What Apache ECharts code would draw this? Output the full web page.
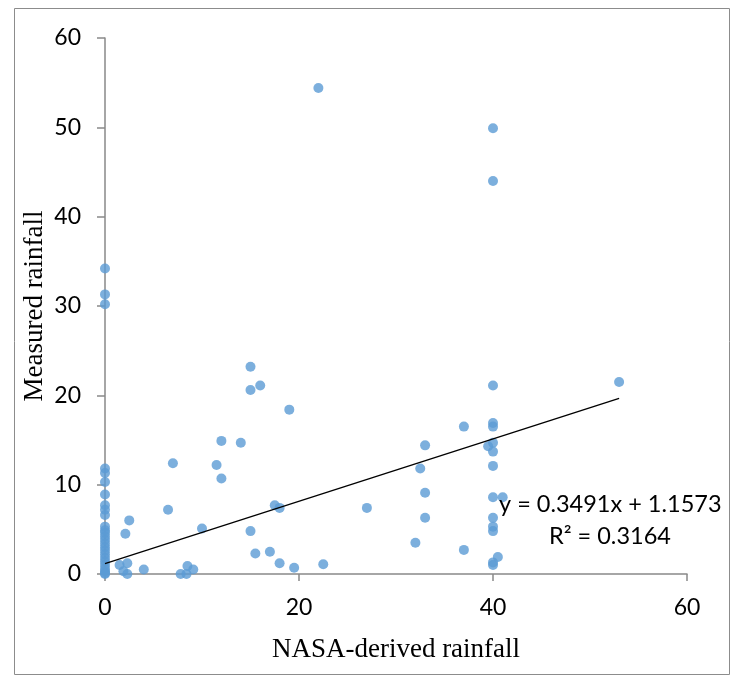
<!DOCTYPE html>
<html>
<head>
<meta charset="utf-8">
<script src="https://cdn.jsdelivr.net/npm/echarts@6/dist/echarts.min.js"></script>
<style>
  html, body { margin: 0; padding: 0; background: #fff; }
  #chart { width: 739px; height: 675px; }
</style>
</head>
<body>
<div id="chart"></div>
<script>
// NASA-derived rainfall (x) vs measured rainfall (y), one entry per station-day
const nasaX = [
  0, 0, 0, 0, 0, 0, 0, 0, 0, 0, 0, 0, 0, 0, 0, 0, 0, 0, 0, 0, 0, 0, 0, 0, 0, 0,
  1.5, 2.3, 1.9, 2.3, 2.1, 2.5, 4.0, 6.5, 7.0, 7.8, 8.4, 8.5, 9.1, 10.0,
  11.5, 12.0, 12.0, 14.0, 15.0, 15.0, 15.0, 15.5, 16.0, 17.0, 17.5, 18.0, 18.0,
  19.0, 19.5, 22.0, 22.5, 27.0, 32.0, 32.5, 33.0, 33.0, 33.0, 37.0, 37.0,
  39.5, 40.0, 40.0, 40.0, 40.0, 40.0, 40.0, 40.0, 40.0, 40.0, 40.0, 40.0, 40.0,
  40.0, 40.0, 40.5, 41.0, 53.0
];
const measuredY = [
  34.2, 31.3, 30.2, 11.8, 11.3, 10.3, 8.9, 7.7, 7.2, 6.6, 5.3, 4.9, 4.6, 4.2,
  3.8, 3.4, 3.0, 2.6, 2.2, 1.8, 1.4, 1.0, 0.6, 0.3, 0.1, 0.0,
  1.0, 1.2, 0.3, 0.0, 4.5, 6.0, 0.5, 7.2, 12.4, 0.0, 0.0, 0.9, 0.5, 5.1,
  12.2, 14.9, 10.7, 14.7, 23.2, 20.6, 4.8, 2.3, 21.1, 2.5, 7.7, 7.4, 1.2,
  18.4, 0.7, 54.4, 1.1, 7.4, 3.5, 11.8, 14.4, 9.1, 6.3, 16.5, 2.7,
  14.3, 49.9, 44.0, 21.1, 16.9, 16.5, 14.7, 13.7, 12.1, 8.6, 6.3, 5.3, 4.8,
  1.3, 1.0, 1.9, 8.6, 21.5
];

// Linear least-squares fit reported for the data
const slope = 0.3491;
const intercept = 1.1573;
const rSquared = 0.3164;

const xTicks = [0, 20, 40, 60];
const yTicks = [0, 10, 20, 30, 40, 50, 60];

const points = nasaX.map((x, i) => [x, measuredY[i]]);
const fitStart = Math.min(...nasaX);
const fitEnd = Math.max(...nasaX);
const fitLine = [fitStart, fitEnd].map(x => [x, slope * x + intercept]);

const chart = echarts.init(document.getElementById('chart'));
const axisGray = '#898989';

chart.setOption({
  animation: false,
  backgroundColor: '#ffffff',
  grid: { left: 105, right: 52, top: 38, bottom: 101 },
  xAxis: {
    type: 'value',
    min: xTicks[0],
    max: xTicks[xTicks.length - 1],
    interval: xTicks[1] - xTicks[0],
    splitLine: { show: false },
    axisLine: { onZero: false, lineStyle: { color: axisGray, width: 1.5 } },
    axisTick: { show: true, length: 7, lineStyle: { color: axisGray, width: 1.5 } },
    axisLabel: { color: '#000', fontFamily: 'Lato', fontSize: 23, margin: 22 },
    name: 'NASA-derived rainfall',
    nameLocation: 'middle',
    nameGap: 62,
    nameTextStyle: { color: '#000', fontFamily: 'Liberation Serif', fontSize: 27 }
  },
  yAxis: {
    type: 'value',
    min: yTicks[0],
    max: yTicks[yTicks.length - 1],
    interval: yTicks[1] - yTicks[0],
    splitLine: { show: false },
    axisLine: { show: true, onZero: false, lineStyle: { color: axisGray, width: 1.5 } },
    axisTick: { show: true, length: 8, lineStyle: { color: axisGray, width: 1.5 } },
    axisLabel: { color: '#000', fontFamily: 'Lato', fontSize: 23, margin: 24 },
    name: 'Measured rainfall',
    nameLocation: 'middle',
    nameGap: 57,
    nameMoveOverlap: false,
    nameTextStyle: { color: '#000', fontFamily: 'Liberation Serif', fontSize: 27 }
  },
  series: [
    {
      type: 'scatter',
      data: points,
      symbol: 'circle',
      symbolSize: 10,
      itemStyle: { color: '#5b9bd5' },
      z: 2
    },
    {
      type: 'line',
      data: fitLine,
      symbol: 'none',
      lineStyle: { color: '#000', width: 1.3 },
      z: 3
    }
  ],
  graphic: [
    {
      type: 'rect',
      shape: { x: 14.5, y: 8.5, width: 715, height: 666 },
      style: { fill: 'none', stroke: '#8c8c8c', lineWidth: 1 },
      silent: true
    },
    {
      type: 'text',
      left: 499, top: 492,
      style: {
        text: 'y = ' + slope.toFixed(4) + 'x + ' + intercept.toFixed(4),
        font: '23.5px Lato', fill: '#000'
      },
      z: 10
    },
    {
      type: 'text',
      left: 549, top: 524,
      style: {
        text: 'R² = ' + rSquared.toFixed(4),
        font: '23.5px Lato', fill: '#000'
      },
      z: 10
    }
  ]
});
</script>
</body>
</html>
